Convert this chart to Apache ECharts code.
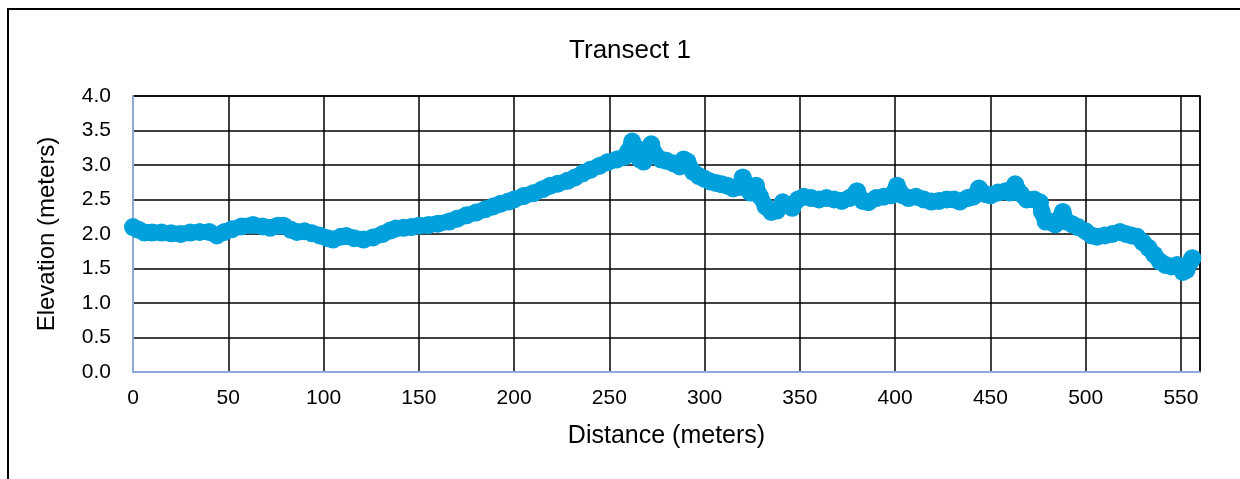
<!DOCTYPE html>
<html>
<head>
<meta charset="utf-8">
<script src="https://cdn.jsdelivr.net/npm/echarts@6/dist/echarts.min.js"></script>
<style>
  html, body { margin: 0; padding: 0; background: #fff; overflow: hidden; }
  #frame {
    position: absolute; left: 7px; top: 8px;
    width: 1400px; height: 700px;
    border: 2px solid #000;
  }
  #chart { position: absolute; left: 0; top: 0; width: 1240px; height: 479px; }
</style>
</head>
<body>
<div id="frame"></div>
<div id="chart"></div>
<script>
// distance along transect (m) and elevation (m)
const distance = [
  0, 3, 6, 10, 15, 20, 25, 30, 35, 40, 44, 48, 52, 57, 63, 68, 72, 76, 79, 83,
  86, 90, 94, 98, 102, 105, 109, 112, 116, 121, 126, 131, 135, 138, 142, 146, 150, 155, 160, 166,
  170, 175, 180, 185, 189, 193, 197, 200, 205, 210, 215, 219, 223, 228, 232, 236, 240, 245, 249, 254,
  258, 260, 262, 264, 266, 268, 270, 272, 274, 277, 280, 284, 287, 289, 291, 294, 297, 300, 303, 306,
  309, 312, 315, 318, 320, 322, 324, 327, 329, 332, 335, 338, 341, 344, 346, 349, 352, 356, 360, 364,
  368, 372, 376, 380, 383, 386, 390, 394, 398, 401, 404, 407, 411, 415, 419, 423, 427, 431, 434, 438,
  441, 444, 447, 450, 454, 458, 460, 463, 466, 469, 473, 476, 477, 479, 481, 484, 488, 490, 493, 496, 500,
  503, 506, 510, 514, 518, 521, 524, 527, 530, 533, 536, 539, 542, 545, 548, 551, 553, 555, 556
];
const elevation = [
  2.10, 2.06, 2.02, 2.02, 2.02, 2.01, 2.00, 2.02, 2.03, 2.03, 1.98, 2.03, 2.07, 2.11, 2.13, 2.11, 2.09, 2.12, 2.12, 2.06,
  2.03, 2.04, 2.01, 1.98, 1.94, 1.92, 1.96, 1.97, 1.94, 1.92, 1.95, 2.00, 2.05, 2.08, 2.09, 2.10, 2.12, 2.13, 2.15, 2.18,
  2.22, 2.27, 2.31, 2.36, 2.40, 2.44, 2.47, 2.50, 2.55, 2.59, 2.65, 2.70, 2.73, 2.77, 2.82, 2.88, 2.93, 2.99, 3.04, 3.08,
  3.12, 3.20, 3.34, 3.25, 3.08, 3.05, 3.20, 3.30, 3.15, 3.08, 3.06, 3.02, 2.98, 3.08, 3.05, 2.90, 2.84, 2.80, 2.76, 2.74,
  2.72, 2.70, 2.66, 2.68, 2.82, 2.72, 2.60, 2.70, 2.55, 2.40, 2.32, 2.34, 2.46, 2.42, 2.38, 2.50, 2.54, 2.52, 2.50, 2.52,
  2.50, 2.48, 2.52, 2.62, 2.48, 2.46, 2.52, 2.54, 2.56, 2.70, 2.56, 2.52, 2.54, 2.50, 2.47, 2.48, 2.50, 2.50, 2.47, 2.52,
  2.54, 2.66, 2.58, 2.56, 2.60, 2.62, 2.60, 2.72, 2.58, 2.50, 2.50, 2.46, 2.32, 2.18, 2.18, 2.14, 2.32, 2.18, 2.14, 2.10, 2.04,
  1.98, 1.96, 1.98, 2.00, 2.03, 2.00, 1.98, 1.96, 1.88, 1.80, 1.70, 1.60, 1.55, 1.53, 1.55, 1.45, 1.48, 1.60, 1.65
];

const points = distance.map((d, i) => [d, elevation[i]]);

var chart = echarts.init(document.getElementById("chart"));
var font = "'Liberation Sans', Arial, sans-serif";

var option = {
  animation: false,
  backgroundColor: "transparent",
  title: {
    text: "Transect 1",
    left: 625,
    top: 33,
    textAlign: "center",
    textStyle: { fontFamily: font, fontSize: 26, fontWeight: "normal", color: "#000" },
  },
  grid: {
    left: 133,
    right: 40,
    top: 96,
    bottom: 107,
    show: true,
    borderColor: "#000",
    borderWidth: 1.5,
  },
  xAxis: {
    type: "value",
    min: 0,
    max: 560,
    interval: 50,
    name: "Distance (meters)",
    nameLocation: "middle",
    nameGap: 52,
    nameTextStyle: { fontFamily: font, fontSize: 25, color: "#000" },
    axisLine: { show: true, onZero: false, lineStyle: { color: "#8eaadb", width: 2 } },
    axisTick: { show: false },
    axisLabel: { fontFamily: font, fontSize: 21, color: "#000", margin: 16 },
    splitLine: { show: true, lineStyle: { color: "#000", width: 1.5 } },
  },
  yAxis: {
    type: "value",
    min: 0,
    max: 4,
    interval: 0.5,
    name: "Elevation (meters)",
    nameLocation: "middle",
    nameGap: 74,
    nameTextStyle: { fontFamily: font, fontSize: 24, color: "#000" },
    axisLine: { show: true, lineStyle: { color: "#8eaadb", width: 2 } },
    axisTick: { show: false },
    axisLabel: {
      fontFamily: font, fontSize: 21, color: "#000", margin: 22,
      formatter: (v) => v.toFixed(1),
    },
    splitLine: { show: true, lineStyle: { color: "#000", width: 1.5 } },
  },
  series: [
    {
      type: "line",
      data: points,
      symbol: "circle",
      symbolSize: 18,
      showAllSymbol: true,
      itemStyle: { color: "#00a0dc" },
      lineStyle: { color: "#00a0dc", width: 16, cap: "round", join: "round" },
    },
  ],
};

chart.setOption(option);
</script>
</body>
</html>
